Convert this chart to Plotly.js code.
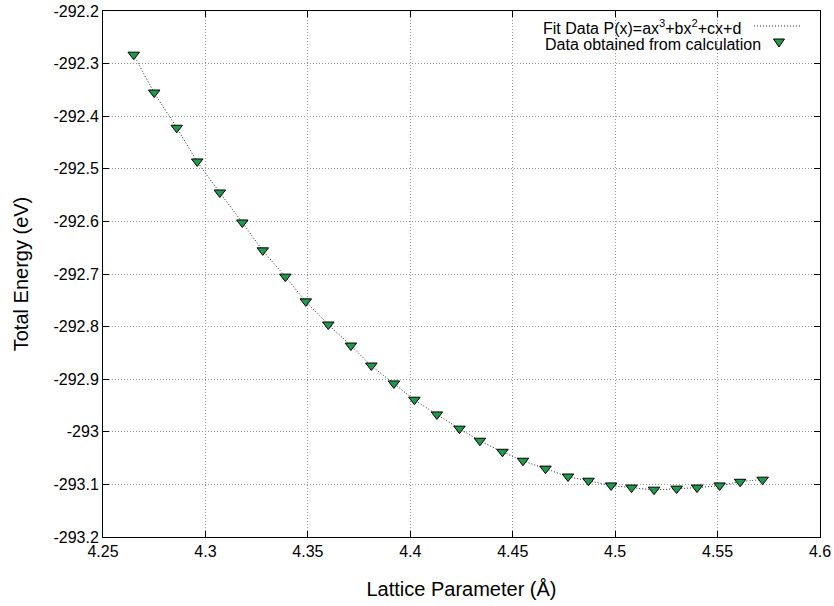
<!DOCTYPE html>
<html>
<head>
<meta charset="utf-8">
<script src="https://cdn.plot.ly/plotly-3.0.1.min.js"></script>
<style>html,body{margin:0;padding:0;background:#fff;}#chart{width:834px;height:606px;}</style>
</head>
<body>
<div id="chart"></div>
<script>
// Lattice parameter (Å)
const latticeParam = [4.265, 4.275, 4.286, 4.296, 4.307, 4.318, 4.328, 4.339, 4.349, 4.360,
                      4.371, 4.381, 4.392, 4.402, 4.413, 4.424, 4.434, 4.445, 4.455, 4.466,
                      4.477, 4.487, 4.498, 4.508, 4.519, 4.530, 4.540, 4.551, 4.561, 4.572];
// Total energy (eV)
const totalEnergy = [-292.283, -292.355, -292.422, -292.486, -292.545, -292.602, -292.655, -292.705, -292.752, -292.796,
                     -292.836, -292.874, -292.908, -292.939, -292.967, -292.994, -293.017, -293.038, -293.055, -293.070,
                     -293.085, -293.093, -293.102, -293.106, -293.110, -293.108, -293.106, -293.102, -293.095, -293.091];

const xTickVals = [4.25, 4.3, 4.35, 4.4, 4.45, 4.5, 4.55, 4.6];
const xTickText = ['4.25', '4.3', '4.35', '4.4', '4.45', '4.5', '4.55', '4.6'];
const yTickVals = [-292.2, -292.3, -292.4, -292.5, -292.6, -292.7, -292.8, -292.9, -293, -293.1, -293.2];
const yTickText = ['-292.2', '-292.3', '-292.4', '-292.5', '-292.6', '-292.7', '-292.8', '-292.9', '-293', '-293.1', '-293.2'];

const fitLabel = 'Fit Data P(x)=ax<sup>3</sup>+bx<sup>2</sup>+cx+d';
const dataLabel = 'Data obtained from calculation';

const W = 834, H = 606;
const M = {l: 103, r: 14, t: 11, b: 69};
const PW = W - M.l - M.r, PH = H - M.t - M.b;
function px(x) { return (x - M.l) / PW; }
function py(y) { return (H - M.b - y) / PH; }

const FONT = 'Liberation Sans, Arial, Helvetica, sans-serif';
const GREEN = '#1f9a4c';

const traces = [
  {
    x: latticeParam, y: totalEnergy, type: 'scatter', mode: 'lines',
    line: {color: '#222', width: 1, dash: '1px,2px', shape: 'spline', smoothing: 1},
    name: fitLabel, showlegend: false, hoverinfo: 'skip'
  },
  {
    x: latticeParam, y: totalEnergy, type: 'scatter', mode: 'markers',
    marker: {symbol: 'triangle-down', size: 10, color: GREEN, line: {color: '#000', width: 1}},
    name: dataLabel, showlegend: false
  }
];

// legend samples (gnuplot style: text right, sample to the right)
const triCx = 779, triCy = 43, triW = 11, triH = 8;
const shapes = [
  {type: 'line', xref: 'paper', yref: 'paper', x0: px(754), x1: px(800), y0: py(26), y1: py(26),
   line: {color: '#222', width: 1, dash: '1px,2px'}},
  {type: 'path', xref: 'paper', yref: 'paper',
   path: 'M ' + px(triCx - triW/2) + ',' + py(triCy - triH/2) + ' L ' + px(triCx + triW/2) + ',' + py(triCy - triH/2) +
         ' L ' + px(triCx) + ',' + py(triCy + triH/2) + ' Z',
   fillcolor: GREEN, line: {color: '#000', width: 1}}
];

const annotations = [
  {text: fitLabel, xref: 'paper', yref: 'paper', x: px(743), y: py(27), xanchor: 'right', yanchor: 'middle',
   showarrow: false, font: {family: FONT, size: 16, color: '#000'}},
  {text: dataLabel, xref: 'paper', yref: 'paper', x: px(763), y: py(44), xanchor: 'right', yanchor: 'middle',
   showarrow: false, font: {family: FONT, size: 16, color: '#000'}}
];

const axisCommon = {
  showline: true, linecolor: '#000', linewidth: 1, mirror: 'ticks',
  ticks: 'inside', ticklen: 6, tickcolor: '#000', tickwidth: 1,
  showgrid: true, gridcolor: '#999', gridwidth: 1, griddash: '1px,2px',
  zeroline: false, tickfont: {family: FONT, size: 16, color: '#000'}
};

const layout = {
  width: W, height: H,
  margin: M,
  paper_bgcolor: '#fff', plot_bgcolor: '#fff',
  showlegend: false,
  font: {family: FONT, color: '#000'},
  xaxis: Object.assign({}, axisCommon, {
    range: [4.25, 4.6], tickmode: 'array', tickvals: xTickVals, ticktext: xTickText,
    title: {text: 'Lattice Parameter (Å)', font: {family: FONT, size: 20, color: '#000'}, standoff: 22}
  }),
  yaxis: Object.assign({}, axisCommon, {
    range: [-293.2, -292.2], tickmode: 'array', tickvals: yTickVals, ticktext: yTickText,
    title: {text: 'Total Energy (eV)', font: {family: FONT, size: 20, color: '#000'}, standoff: 19}
  }),
  shapes: shapes,
  annotations: annotations
};

Plotly.newPlot('chart', traces, layout, {displayModeBar: false, staticPlot: true});
</script>
</body>
</html>
